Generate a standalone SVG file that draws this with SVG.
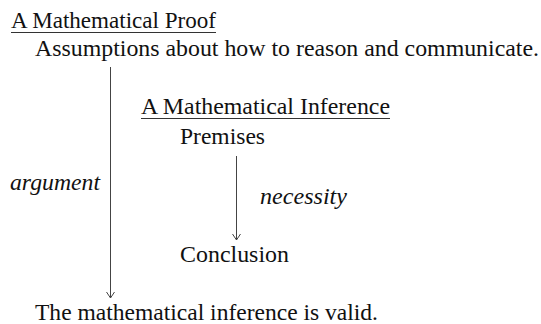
<svg xmlns="http://www.w3.org/2000/svg" width="541" height="324" viewBox="0 0 541 324">
<style>
.t{font-family:'Liberation Serif','Times New Roman',serif;font-size:23px;fill:#111}
.it{font-style:italic}
.ul{stroke:#333;stroke-width:1}
.con{stroke:#444;stroke-width:1;fill:none}
</style>
<defs>
<marker id="ah" markerWidth="10" markerHeight="10" refX="9" refY="5" orient="auto" markerUnits="userSpaceOnUse" viewBox="0 0 10 10">
<path d="M3,1 L9,5 L3,9" fill="none" stroke="#444" stroke-width="1"/>
</marker>
</defs>
<rect width="541" height="324" fill="#fff"/>
<g id="proof">
<text class="t" x="11" y="28" textLength="205" lengthAdjust="spacingAndGlyphs">A Mathematical Proof</text>
<line class="ul" x1="11" y1="32.5" x2="216" y2="32.5"/>
</g>
<g id="assumptions"><text class="t" x="35" y="56" textLength="504" lengthAdjust="spacingAndGlyphs">Assumptions about how to reason and communicate.</text></g>
<g id="inference">
<text class="t" x="141" y="114" textLength="249" lengthAdjust="spacingAndGlyphs">A Mathematical Inference</text>
<line class="ul" x1="141" y1="118.5" x2="390" y2="118.5"/>
</g>
<g id="premises"><text class="t" x="180" y="144" textLength="85" lengthAdjust="spacingAndGlyphs">Premises</text></g>
<g id="conclusion"><text class="t" x="180" y="262" textLength="109" lengthAdjust="spacingAndGlyphs">Conclusion</text></g>
<g id="valid"><text class="t" x="35" y="320" textLength="343" lengthAdjust="spacingAndGlyphs">The mathematical inference is valid.</text></g>
<g id="connectors">
<line class="con" x1="110.5" y1="67" x2="110.5" y2="298" marker-end="url(#ah)"/>
<text class="t it" x="10" y="190" textLength="90" lengthAdjust="spacingAndGlyphs">argument</text>
<line class="con" x1="236.5" y1="156" x2="236.5" y2="240" marker-end="url(#ah)"/>
<text class="t it" x="260" y="204" textLength="87" lengthAdjust="spacingAndGlyphs">necessity</text>
</g>
</svg>
